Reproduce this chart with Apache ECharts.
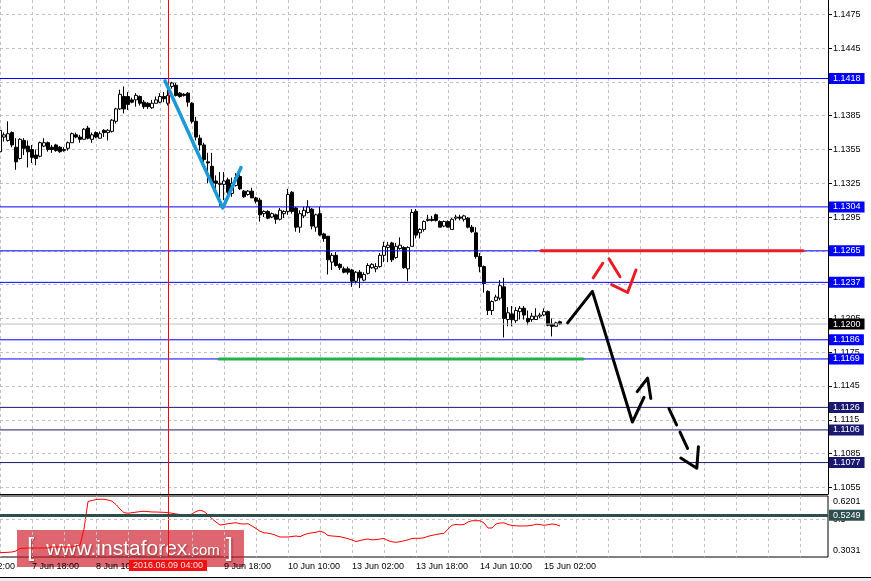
<!DOCTYPE html>
<html><head><meta charset="utf-8">
<script src="https://cdn.jsdelivr.net/npm/echarts@6/dist/echarts.min.js"></script>
<style>html,body{margin:0;padding:0;background:#fff;overflow:hidden}#c{width:871px;height:581px;}</style>
</head><body><div id="c"></div>
<script>
// ---- candles: [open, close, low, high], one per hourly bar (EURUSD H1) ----
const ohlc = [
[1.1353,1.1372,1.1352,1.1377],[1.1366,1.1368,1.1362,1.1370],[1.1363,1.1369,1.1362,1.1380],[1.1370,1.1359,1.1357,1.1371],
[1.1357,1.1344,1.1337,1.1365],[1.1347,1.1364,1.1346,1.1365],[1.1363,1.1356,1.1350,1.1365],[1.1358,1.1353,1.1339,1.1363],
[1.1355,1.1348,1.1343,1.1359],[1.1350,1.1347,1.1341,1.1355],[1.1349,1.1361,1.1348,1.1362],[1.1358,1.1361,1.1357,1.1365],
[1.1361,1.1355,1.1353,1.1362],[1.1357,1.1355,1.1352,1.1359],[1.1359,1.1354,1.1353,1.1360],[1.1357,1.1353,1.1352,1.1358],
[1.1354,1.1355,1.1353,1.1357],[1.1356,1.1361,1.1354,1.1362],[1.1361,1.1369,1.1361,1.1370],[1.1368,1.1366,1.1365,1.1370],
[1.1366,1.1364,1.1361,1.1368],[1.1364,1.1373,1.1364,1.1374],[1.1374,1.1365,1.1364,1.1376],[1.1364,1.1368,1.1361,1.1370],
[1.1370,1.1366,1.1365,1.1371],[1.1365,1.1369,1.1365,1.1371],[1.1372,1.1370,1.1366,1.1373],[1.1370,1.1372,1.1363,1.1373],
[1.1371,1.1381,1.1370,1.1382],[1.1380,1.1391,1.1378,1.1392],[1.1391,1.1404,1.1390,1.1408],[1.1402,1.1391,1.1387,1.1411],
[1.1402,1.1395,1.1390,1.1406],[1.1399,1.1397,1.1396,1.1401],[1.1399,1.1403,1.1393,1.1405],[1.1402,1.1396,1.1394,1.1403],
[1.1397,1.1393,1.1391,1.1399],[1.1396,1.1393,1.1391,1.1397],[1.1392,1.1396,1.1391,1.1399],[1.1396,1.1399,1.1396,1.1402],
[1.1397,1.1402,1.1396,1.1405],[1.1402,1.1400,1.1397,1.1406],[1.1396,1.1403,1.1394,1.1408],[1.1411,1.1414,1.1409,1.1415],
[1.1412,1.1403,1.1402,1.1414],[1.1405,1.1402,1.1401,1.1406],[1.1404,1.1403,1.1402,1.1405],[1.1405,1.1397,1.1393,1.1406],
[1.1396,1.1380,1.1378,1.1397],[1.1380,1.1366,1.1363,1.1384],[1.1365,1.1359,1.1354,1.1368],[1.1359,1.1346,1.1339,1.1361],
[1.1344,1.1343,1.1325,1.1352],[1.1340,1.1325,1.1323,1.1352],[1.1327,1.1325,1.1315,1.1332],[1.1324,1.1325,1.1305,1.1335],
[1.1324,1.1327,1.1310,1.1335],[1.1328,1.1317,1.1313,1.1330],[1.1316,1.1325,1.1313,1.1330],[1.1323,1.1330,1.1322,1.1334],
[1.1331,1.1320,1.1319,1.1334],[1.1318,1.1313,1.1312,1.1319],[1.1315,1.1318,1.1314,1.1319],[1.1318,1.1312,1.1312,1.1321],
[1.1312,1.1309,1.1307,1.1313],[1.1310,1.1297,1.1291,1.1312],[1.1298,1.1300,1.1295,1.1301],[1.1300,1.1294,1.1293,1.1301],
[1.1295,1.1298,1.1294,1.1299],[1.1297,1.1293,1.1289,1.1298],[1.1293,1.1301,1.1292,1.1303],[1.1298,1.1300,1.1294,1.1301],
[1.1300,1.1315,1.1297,1.1320],[1.1317,1.1300,1.1298,1.1318],[1.1303,1.1286,1.1282,1.1304],[1.1286,1.1298,1.1281,1.1301],
[1.1296,1.1301,1.1294,1.1304],[1.1299,1.1304,1.1298,1.1310],[1.1302,1.1287,1.1284,1.1303],[1.1286,1.1297,1.1282,1.1298],
[1.1298,1.1279,1.1278,1.1304],[1.1280,1.1276,1.1273,1.1281],[1.1278,1.1257,1.1244,1.1278],[1.1255,1.1261,1.1248,1.1263],
[1.1261,1.1252,1.1251,1.1264],[1.1253,1.1250,1.1248,1.1254],[1.1249,1.1246,1.1245,1.1251],[1.1249,1.1246,1.1244,1.1251],
[1.1248,1.1238,1.1233,1.1249],[1.1238,1.1246,1.1236,1.1247],[1.1246,1.1241,1.1232,1.1248],[1.1239,1.1244,1.1238,1.1246],
[1.1245,1.1252,1.1244,1.1254],[1.1250,1.1253,1.1249,1.1254],[1.1249,1.1251,1.1246,1.1254],[1.1251,1.1261,1.1250,1.1263],
[1.1261,1.1269,1.1255,1.1273],[1.1268,1.1270,1.1255,1.1273],[1.1272,1.1257,1.1255,1.1273],[1.1259,1.1269,1.1258,1.1272],
[1.1267,1.1270,1.1266,1.1277],[1.1268,1.1250,1.1249,1.1269],[1.1249,1.1268,1.1238,1.1269],[1.1269,1.1299,1.1269,1.1302],
[1.1300,1.1279,1.1276,1.1302],[1.1281,1.1284,1.1276,1.1285],[1.1284,1.1291,1.1282,1.1292],[1.1292,1.1293,1.1291,1.1297],
[1.1293,1.1292,1.1291,1.1296],[1.1297,1.1292,1.1291,1.1298],[1.1291,1.1286,1.1286,1.1292],[1.1287,1.1291,1.1286,1.1292],
[1.1291,1.1286,1.1286,1.1292],[1.1284,1.1293,1.1284,1.1294],[1.1294,1.1295,1.1292,1.1297],[1.1295,1.1294,1.1292,1.1297],
[1.1293,1.1296,1.1291,1.1297],[1.1294,1.1286,1.1285,1.1295],[1.1286,1.1282,1.1281,1.1288],[1.1281,1.1260,1.1258,1.1286],
[1.1260,1.1251,1.1246,1.1263],[1.1251,1.1236,1.1228,1.1252],[1.1229,1.1212,1.1208,1.1230],[1.1212,1.1220,1.1208,1.1221],
[1.1221,1.1224,1.1220,1.1226],[1.1223,1.1234,1.1221,1.1239],[1.1233,1.1205,1.1188,1.1241],[1.1204,1.1210,1.1198,1.1215],
[1.1209,1.1204,1.1198,1.1216],[1.1203,1.1212,1.1201,1.1215],[1.1211,1.1214,1.1204,1.1216],[1.1214,1.1208,1.1204,1.1216],
[1.1205,1.1202,1.1199,1.1212],[1.1204,1.1207,1.1202,1.1210],[1.1204,1.1207,1.1204,1.1214],[1.1207,1.1208,1.1205,1.1210],
[1.1208,1.1211,1.1207,1.1214],[1.1211,1.1199,1.1198,1.1212],[1.1200,1.1198,1.1189,1.1205],[1.1198,1.1201,1.1198,1.1202],
[1.1202,1.1200,1.1199,1.1203]
];
// ---- sub-window oscillator, one value per bar ----
const oscillator = [
0.3254,0.3265,0.3275,0.3291,0.3343,0.3483,0.3483,0.3499,0.3499,0.3499,0.3499,0.3499,0.3499,0.3551,0.3551,0.3551,
0.3551,0.3551,0.3551,0.3603,0.3655,0.4486,0.5915,0.5967,0.6019,0.6030,0.6030,0.5993,0.5931,0.5759,0.5525,0.5333,
0.5307,0.5333,0.5359,0.5390,0.5406,0.5390,0.5370,0.5370,0.5359,0.5354,0.5333,0.5307,0.5266,0.5240,0.5214,0.5177,
0.5266,0.5396,0.5463,0.5396,0.5224,0.5021,0.4850,0.4694,0.4720,0.4761,0.4787,0.4813,0.4756,0.4746,0.4761,0.4642,
0.4512,0.4372,0.4289,0.4268,0.4226,0.4153,0.4070,0.4070,0.4070,0.4096,0.4122,0.4086,0.4185,0.4252,0.4289,0.4315,
0.4382,0.4304,0.4148,0.4122,0.4107,0.4086,0.4039,0.3982,0.3914,0.3836,0.3888,0.3935,0.3966,0.3925,0.3935,0.3966,
0.3992,0.3888,0.3821,0.3795,0.3826,0.3873,0.3925,0.3992,0.4003,0.4003,0.4029,0.4107,0.4153,0.4200,0.4237,0.4257,
0.4486,0.4678,0.4725,0.4704,0.4720,0.4850,0.4917,0.4917,0.4917,0.4798,0.4538,0.4538,0.4746,0.4798,0.4808,0.4720,
0.4668,0.4652,0.4642,0.4642,0.4652,0.4678,0.4735,0.4720,0.4678,0.4709,0.4746,0.4720,0.4642
];
// ---- axes ----
const priceTicks = [1.1475,1.1445,1.1415,1.1385,1.1355,1.1325,1.1295,1.1265,1.1235,1.1205,1.1175,1.1145,1.1115,1.1085,1.1055];
const tickTop = 1.1475, tickBottom = 1.1055, tickStep = 0.003;
const oscTicks = [0.6201,0.5,0.3031];
const oscGridLevels = [0.5];
const priceMin = 1.10491, priceMax = 1.14877;
const oscMin = 0.3031, oscMax = 0.6201;
// ---- horizontal levels ----
const blueLevels = [1.1418,1.1304,1.1265,1.1237,1.1186,1.1169];
const navyLevels = [1.1126,1.1106,1.1077];
const bidPrice = 1.1200;
const oscLevel = 0.5249;
// ---- vertical line ----
const crossTime = '9 Jun 04:00';
const crossLabel = '2016.06.09 04:00';
// ---- drawn objects: [bar offset from first candle, price] ----
const cyanWave = [[41.25,1.1416],[55.7,1.1303],[60.25,1.1339]];
const blackPath = [[141.9,1.1201],[148.1,1.1229],[158.1,1.1113],[161.0,1.1135]];
const blackHead = [[159.3,1.1140],[161.9,1.1152],[162.7,1.1134]];
const dashedPath = [[167.25,1.1125],[172.5,1.1085]];
const dashedHead = [[170.2,1.1081],[174.2,1.1072],[174.6,1.1091]];
const redStroke1 = [[148.3,1.1241],[150.7,1.1254]];
const redStroke2 = [[152.25,1.1258],[155.0,1.1242]];
const redCheck = [[152.9,1.1235],[156.9,1.1228],[159.0,1.1248]];
const redLevel = [[135.25,1.1265],[200.75,1.1265]];
const greenLevel = [[54.75,1.1169],[145.8,1.1169]];

// ---- hourly time categories (weekends skipped) ----
const MONTHS = ['Jan','Feb','Mar','Apr','May','Jun','Jul','Aug','Sep','Oct','Nov','Dec'];
const PAD = 9, TOTAL = 217;
const XMIN = -PAD, XMAX = TOTAL - 1 - PAD;
const categories = [];
let t = Date.UTC(2016, 5, 7, 1);
while (categories.length < TOTAL) {
  const d = new Date(t);
  const wd = d.getUTCDay();
  if (wd !== 0 && wd !== 6) {
    categories.push(d.getUTCDate() + ' ' + MONTHS[d.getUTCMonth()] + ' ' + String(d.getUTCHours()).padStart(2, '0') + ':00');
  }
  t += 3600000;
}

const FONT = '"Liberation Sans", Arial, sans-serif';
const gridDash = {color: '#c0c0c0', type: [3, 3], width: 1};
const vSplit = {show: true, interval: (i) => i % 8 === 1, lineStyle: gridDash};

// main price panel geometry (pixels)
const MAIN_TOP = 0, MAIN_H = 494;
const pxPerPrice = MAIN_H / (priceMax - priceMin);
const tickGridTop = MAIN_TOP + (priceMax - tickTop) * pxPerPrice;
const tickGridH = (tickTop - tickBottom) * pxPerPrice;

function hLine(name, v, color, width, type, z, labelBg) {
  const s = {name, type: 'line', xAxisIndex: 2, yAxisIndex: 0, silent: true, symbol: 'none', z,
    data: [[XMIN, v], [XMAX, v]], lineStyle: {color, width, type}};
  if (labelBg) {
    s.endLabel = {show: true, formatter: v.toFixed(4), distance: 1, color: '#fff', backgroundColor: labelBg,
      padding: [1, 4, 0, 4], fontSize: 9, lineHeight: 10, fontFamily: FONT};
  }
  return s;
}
function drawn(name, data, color, width, type) {
  return {name, type: 'line', xAxisIndex: 2, yAxisIndex: 0, data, symbol: 'none', silent: true, z: 6,
    lineStyle: {color, width, type: type || 'solid', cap: 'round', join: 'round'}};
}

const series = [];
series.push({name: 'EURUSD', type: 'candlestick', xAxisIndex: 0, yAxisIndex: 0, z: 3, barWidth: 3, silent: true,
  encode: {x: 0, y: [1, 2, 3, 4]},
  data: ohlc.map((r, j) => [j + PAD, r[0], r[1], r[2], r[3]]),
  itemStyle: {color: '#fff', color0: '#000', borderColor: '#000', borderColor0: '#000', borderWidth: 1},
  markLine: {silent: true, symbol: 'none', label: {show: false},
    lineStyle: {color: '#ff0000', width: 1, type: 'solid'}, data: [{xAxis: crossTime}]}});
series.push(hLine('bid', bidPrice, '#c0c0c0', 1, 'solid', 4, '#000'));
blueLevels.forEach((v) => series.push(hLine('level', v, '#0000ff', 1, 'solid', 4, '#0000ff')));
navyLevels.forEach((v) => series.push(hLine('level', v, '#191970', 1, 'solid', 4, '#191970')));
series.push(
  drawn('cyan', cyanWave, '#1a9ad8', 3.5),
  drawn('green', greenLevel, '#22b14c', 3),
  drawn('redLevel', redLevel, '#ec1c24', 3),
  drawn('red1', redStroke1, '#ec1c24', 3),
  drawn('red2', redStroke2, '#ec1c24', 3),
  drawn('red3', redCheck, '#ec1c24', 3),
  drawn('black', blackPath, '#000', 3),
  drawn('blackHead', blackHead, '#000', 3),
  drawn('dashed', dashedPath, '#000', 3, [18, 8]),
  drawn('dashedHead', dashedHead, '#000', 3)
);
series.push({name: 'osc', type: 'line', xAxisIndex: 1, yAxisIndex: 1, z: 3, silent: true, symbol: 'none',
  data: oscillator.map((v, j) => [j + PAD, v]), lineStyle: {color: '#ff0000', width: 1},
  markLine: {silent: true, symbol: 'none', lineStyle: {color: '#ff0000', width: 1, type: 'solid'},
    label: {show: true, position: 'start', distance: 3, formatter: crossLabel, color: '#ffe0e0',
      backgroundColor: '#ee1111', padding: [1, 4, 0, 4], fontSize: 9, lineHeight: 10, fontFamily: FONT},
    data: [{xAxis: crossTime}]}});
series.push({name: 'oscLevels', type: 'line', xAxisIndex: 1, yAxisIndex: 1, data: [], z: 4, silent: true,
  markLine: {silent: true, symbol: 'none',
    data: oscGridLevels.map((v) => ({yAxis: v, lineStyle: gridDash, label: {show: false}}))
      .concat([{yAxis: oscLevel, lineStyle: {color: '#2f4f4f', width: 3, type: 'solid'},
        label: {show: true, position: 'end', distance: 1, formatter: oscLevel.toFixed(4), color: '#fff',
          backgroundColor: '#2f4f4f', padding: [1, 4, 0, 4], fontSize: 9, lineHeight: 10, fontFamily: FONT}}])}});

const chart = echarts.init(document.getElementById('c'), null, {renderer: 'canvas'});
chart.setOption({
  animation: false,
  backgroundColor: '#fff',
  textStyle: {fontFamily: FONT},
  grid: [
    {left: -36, right: 43, top: MAIN_TOP, height: MAIN_H, containLabel: false, outerBoundsMode: 'none'},
    {left: -36, right: 43, top: 496, height: 61, show: true, borderColor: '#000', borderWidth: 1,
      containLabel: false, outerBoundsMode: 'none'},
    {left: -36, right: 43, top: tickGridTop, height: tickGridH, containLabel: false, outerBoundsMode: 'none'}
  ],
  xAxis: [
    {type: 'category', gridIndex: 0, data: categories, boundaryGap: false,
      axisLine: {show: true, onZero: false, lineStyle: {color: '#000'}}, axisTick: {show: false}, axisLabel: {show: false}, splitLine: vSplit},
    {type: 'category', gridIndex: 1, data: categories, boundaryGap: false,
      axisLine: {show: false}, axisTick: {show: false},
      axisLabel: {show: true, interval: (i) => i % 16 === 1 && i <= PAD + ohlc.length, align: 'left', margin: 5,
        fontSize: 9, color: '#000', fontFamily: FONT},
      splitLine: vSplit},
    {type: 'value', gridIndex: 0, min: XMIN, max: XMAX, show: false},
    {type: 'value', gridIndex: 2, min: XMIN, max: XMAX, show: false}
  ],
  yAxis: [
    {type: 'value', gridIndex: 0, position: 'right', min: priceMin, max: priceMax, scale: true,
      axisLine: {show: true, onZero: false, lineStyle: {color: '#000'}},
      axisTick: {show: true, length: 4, customValues: priceTicks, lineStyle: {color: '#000'}},
      axisLabel: {show: true, customValues: priceTicks, margin: 5, fontSize: 9, color: '#000', fontFamily: FONT,
        formatter: (v) => v.toFixed(4)},
      splitLine: {show: false}},
    {type: 'value', gridIndex: 1, position: 'right', min: oscMin, max: oscMax, scale: true,
      axisLine: {show: false, onZero: false}, axisTick: {show: false},
      axisLabel: {show: true, customValues: oscTicks, margin: 5, fontSize: 9, color: '#000', fontFamily: FONT,
        formatter: (v) => v === oscMax ? '{top|' + v + '}' : (v === oscMin ? '{bot|' + v + '}' : String(v)),
        rich: {top: {padding: [12, 0, 0, 0], fontSize: 9, color: '#000'}, bot: {padding: [0, 0, 12, 0], fontSize: 9, color: '#000'}}},
      splitLine: {show: false}},
    {type: 'value', gridIndex: 2, position: 'right', min: tickBottom, max: tickTop, interval: tickStep, scale: true,
      axisLine: {show: false, onZero: false}, axisTick: {show: false}, axisLabel: {show: false},
      splitLine: {show: true, lineStyle: gridDash}}
  ],
  series,
  graphic: [
    {type: 'rect', left: 0, top: 577, z: 10, shape: {width: 871, height: 1}, style: {fill: '#000'}},
    {type: 'rect', left: 0, top: 578, z: 10, shape: {width: 871, height: 3}, style: {fill: '#ececec'}},
    {type: 'group', left: 17, top: 530, z: 20, children: [
      {type: 'rect', shape: {x: 0, y: 0, width: 227, height: 37}, style: {fill: 'rgba(205,20,35,0.65)'}},
      {type: 'text', x: 113, y: 19, style: {
        text: '{b|[}{w|www.instaforex}{c|.com}{e|]}',
        align: 'center', verticalAlign: 'middle',
        textShadowColor: 'rgba(80,0,0,0.5)', textShadowBlur: 2, textShadowOffsetX: 1, textShadowOffsetY: 1,
        rich: {
          b: {fontSize: 26, fill: '#fff', fontFamily: FONT, padding: [0, 12, 0, 0]},
          w: {fontSize: 21, fill: '#fff', fontFamily: FONT},
          c: {fontSize: 15, fill: '#fff', fontFamily: FONT, padding: [4, 0, 0, 0]},
          e: {fontSize: 26, fill: '#fff', fontFamily: FONT, padding: [0, 0, 0, 6]}
        }}}
    ]}
  ]
});
</script></body></html>
